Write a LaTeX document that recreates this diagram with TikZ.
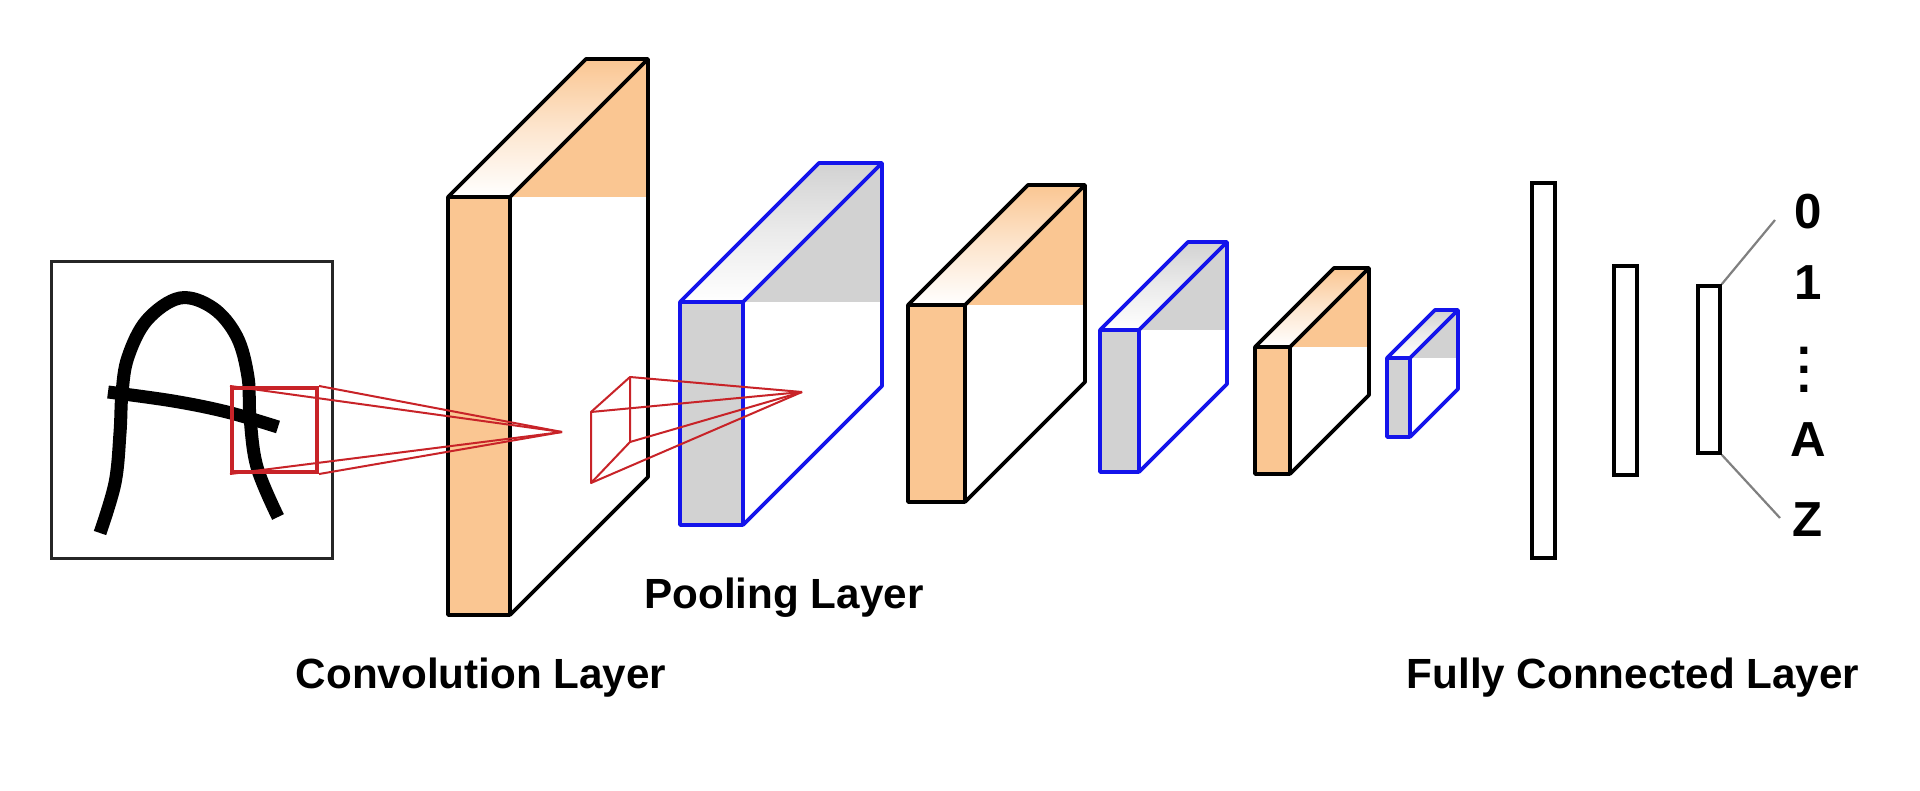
\documentclass[tikz,border=0pt]{standalone}
\usepackage{fontspec}
\setmainfont{Liberation Sans}
\usetikzlibrary{calc}
\definecolor{peach}{RGB}{250,198,146}
\definecolor{poolgray}{RGB}{210,210,210}
\definecolor{poolblue}{RGB}{20,20,235}
\definecolor{kred}{RGB}{200,35,40}
\definecolor{lgray}{RGB}{128,128,128}
% #1 L, #2 R, #3 T, #4 B, #5 depth, #6 edge colour, #7 fill colour
\newcommand\layerbox[7]{%
  \fill[white] (#2,#3) -- ({#2+#5},{#3-#5}) -- ({#2+#5},{#4-#5}) -- (#2,#4) -- cycle;
  \fill[#7] (#2,#3) -- ({#2+#5},{#3-#5}) -- ({#2+#5},#3) -- cycle;
  \shade[top color=#7, bottom color=white, middle color=#7!45] (#1,#3) -- ({#1+#5},{#3-#5}) -- ({#2+#5},{#3-#5}) -- (#2,#3) -- cycle;
  \fill[#7] (#1,#3) rectangle (#2,#4);
  \draw[boxedge, draw=#6] (#1,#3) rectangle (#2,#4);
  \draw[boxedge, draw=#6] (#1,#3) -- ({#1+#5},{#3-#5}) -- ({#2+#5},{#3-#5}) -- ({#2+#5},{#4-#5}) -- (#2,#4);
  \draw[boxedge, draw=#6] (#2,#3) -- ({#2+#5},{#3-#5});
}
\begin{document}
\begin{tikzpicture}[x=0.01cm,y=-0.01cm,
  boxedge/.style={line width=0.038cm, line join=round},
  redthin/.style={draw=kred, line width=0.02cm},
  fcbar/.style={draw=black, line width=0.035cm, fill=white, inner sep=0pt},
  glink/.style={draw=lgray, line width=0.022cm},
  layerlbl/.style={font=\bfseries\fontsize{12}{14}\selectfont, anchor=base, inner sep=0pt},
  outlbl/.style={font=\bfseries\fontsize{14}{16}\selectfont, anchor=base, inner sep=0pt},
  stroke/.style={line width=0.13cm, line cap=butt, line join=round}]
\useasboundingbox (0,0) rectangle (1920,791);
\fill[white] (0,0) rectangle (1920,791);

% input image
\node[draw=black!85, line width=0.03cm, minimum width=2.8cm, minimum height=2.96cm, inner sep=0pt] (inp) at (192,410) {};
\draw[stroke] plot[smooth, tension=0.6] coordinates {(100,533) (115,483) (120,433) (122,393) (128,357) (147,320) (180,298) (213,308) (237,337) (248,377) (250,417) (257,467) (278,517)};
\draw[stroke] plot[smooth, tension=0.6] coordinates {(108,392) (173,401) (227,412) (278,427)};

% layers
\layerbox{448}{510}{197}{615}{138}{black}{peach}
\layerbox{680}{743}{302}{525}{139}{poolblue}{poolgray}
\layerbox{908}{965}{305}{502}{120}{black}{peach}
\layerbox{1100}{1139}{330}{472}{88}{poolblue}{poolgray}
\layerbox{1255}{1290}{347}{474}{79}{black}{peach}
\layerbox{1387}{1410}{358}{437}{48}{poolblue}{poolgray}

% receptive field 1
\node[draw=kred, line width=0.04cm, minimum width=0.85cm, minimum height=0.84cm, inner sep=0pt] (rf) at (274.5,430) {};
\coordinate (ap1) at (562,432);
\draw[redthin] (rf.north west) -- (ap1);
\draw[redthin] (rf.north east) -- (ap1);
\draw[redthin] (rf.south west) -- (ap1);
\draw[redthin] (rf.south east) -- (ap1);

% receptive field 2
\coordinate (pa) at (591,412);
\coordinate (pb) at (630,377);
\coordinate (pc) at (630,442);
\coordinate (pd) at (591,483);
\coordinate (ap2) at (802,392);
\draw[redthin, line join=round] (pa) -- (pb) -- (pc) -- (pd) -- cycle;
\draw[redthin] (pa) -- (ap2);
\draw[redthin] (pb) -- (ap2);
\draw[redthin] (pc) -- (ap2);
\draw[redthin] (pd) -- (ap2);

% fully connected
\node[fcbar, minimum width=0.23cm, minimum height=3.75cm] (fc1) at (1543.5,370.5) {};
\node[fcbar, minimum width=0.23cm, minimum height=2.09cm] (fc2) at (1625.5,370.5) {};
\node[fcbar, minimum width=0.22cm, minimum height=1.67cm] (fc3) at (1709,369.5) {};

% outputs
\node[outlbl] (o0) at (1808,229) {0};
\node[outlbl] (o1) at (1808,300) {1};
\node[font=\bfseries\fontsize{14}{5.4}\selectfont, align=center, inner sep=0pt] (odots) at (1804,370) {.\\.\\.};
\node[outlbl] (oA) at (1808,457) {A};
\node[outlbl] (oZ) at (1808,537) {Z};
\coordinate (c0) at (1775,220);
\coordinate (cz) at (1780,518);
\draw[glink] (fc3.north east) -- (c0);
\draw[glink] (fc3.south east) -- (cz);

% labels
\node[layerlbl] (lpool) at (784,608) {Pooling Layer};
\node[layerlbl] (lconv) at (481,688) {Convolution Layer};
\node[layerlbl] (lfc) at (1633,688) {Fully Connected Layer};
\end{tikzpicture}
\end{document}
